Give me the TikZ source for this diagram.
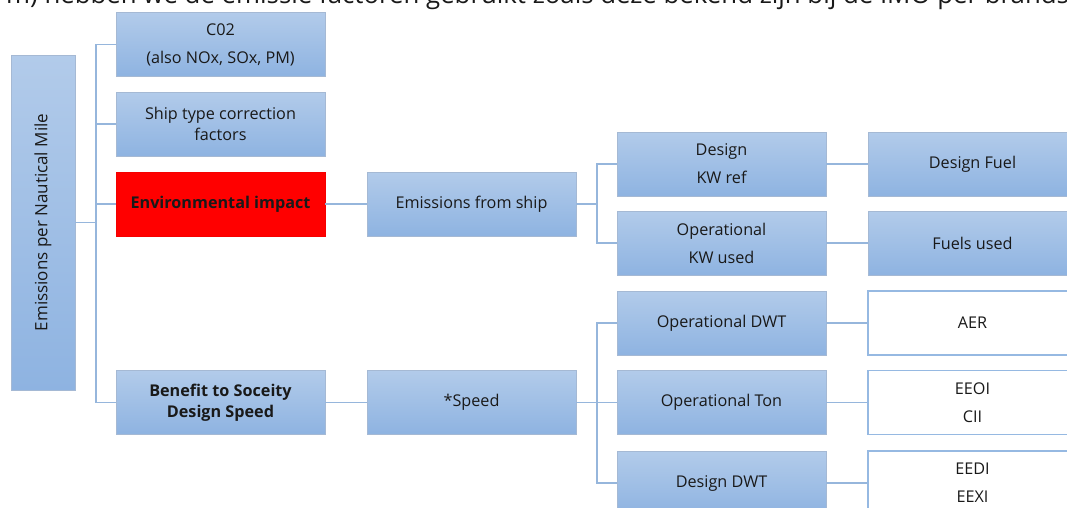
\documentclass[tikz,border=0pt]{standalone}
\usepackage{fontspec}
\setmainfont{Open Sans}
\definecolor{btop}{RGB}{178,203,234}
\definecolor{bbot}{RGB}{142,179,225}
\definecolor{bedge}{RGB}{165,185,212}
\definecolor{conncol}{RGB}{150,182,220}
\definecolor{wedge}{RGB}{150,185,226}
\definecolor{txt}{RGB}{25,25,25}
\tikzset{
  bluebox/.style={rectangle, top color=btop, bottom color=bbot, draw=bedge, line width=0.6pt,
    minimum width=209pt, minimum height=64pt, inner sep=0pt, align=center, text=txt,
    font=\fontsize{16.2}{21}\selectfont},
  redbox/.style={bluebox, top color=red, bottom color=red, fill=red, draw=red!80!black!20!red,
    font=\fontsize{16.2}{21}\selectfont\bfseries},
  whitebox/.style={bluebox, top color=white, bottom color=white, draw=wedge, line width=1.2pt},
  conn/.style={draw=conncol, line width=1.4pt},
}
\begin{document}
\begin{tikzpicture}[x=1pt,y=-1pt]
\useasboundingbox (0,0) rectangle (1067,507);
\fill[white] (0,0) rectangle (1067,507);
% partially visible heading text
\node[anchor=base west, inner sep=0pt, text=txt, font=\fontsize{25.8}{29}\selectfont] (head) at (6,3)
  {m) hebben we de emissie factoren gebruikt zoals deze bekend zijn bij de IMO per brandstof};
% root
\node[bluebox, minimum width=64pt, minimum height=335pt, font=\fontsize{17}{21}\selectfont] (root) at (43,222.5)
  {\rotatebox{90}{Emissions per Nautical Mile}};
% level 1
\node[bluebox] (c02) at (220.5,44.5) {C02\\[7pt](also NOx, SOx, PM)};
\node[bluebox] (ship) at (220.5,124) {Ship type correction\\factors};
\node[redbox] (env) at (220.5,204) {Environmental impact};
\node[bluebox, font=\fontsize{16.2}{21}\selectfont\bfseries] (ben) at (220.5,402.5) {Benefit to Soceity\\Design Speed};
% level 2
\node[bluebox] (ems) at (471.5,204) {Emissions from ship};
\node[bluebox] (spd) at (471.5,402.5) {*Speed};
% level 3
\node[bluebox] (dkw) at (721.5,164) {Design\\[7pt]KW ref};
\node[bluebox] (okw) at (721.5,243) {Operational\\[7pt]KW used};
\node[bluebox] (odwt) at (721.5,323) {Operational DWT};
\node[bluebox] (oton) at (721.5,402.5) {Operational Ton};
\node[bluebox] (ddwt) at (721.5,483) {Design DWT};
% level 4
\node[bluebox] (dfuel) at (972.5,164) {Design Fuel};
\node[bluebox] (fused) at (972.5,243) {Fuels used};
\node[whitebox] (aer) at (972.5,323) {AER};
\node[whitebox] (eeoi) at (972.5,402.5) {EEOI\\[7pt]CII};
\node[whitebox] (eedi) at (972.5,483) {EEDI\\[7pt]EEXI};
% trunks
\coordinate (t1) at (96,0);
\coordinate (t2) at (597,0);
\draw[conn] (root.east) -- (root.east -| t1);
\draw[conn] (c02.west) -- (c02.west -| t1) -- (ben.west -| t1) -- (ben.west);
\draw[conn] (ship.west) -- (ship.west -| t1);
\draw[conn] (env.west) -- (env.west -| t1);
\draw[conn] (env.east) -- (ems.west);
\draw[conn] (ben.east) -- (spd.west);
\draw[conn] (ems.east) -- (ems.east -| t2);
\draw[conn] (dkw.west) -- (dkw.west -| t2) -- (okw.west -| t2) -- (okw.west);
\draw[conn] (spd.east) -- (oton.west);
\draw[conn] (odwt.west) -- (odwt.west -| t2) -- (ddwt.west -| t2) -- (ddwt.west);
\draw[conn] (dkw.east) -- (dfuel.west);
\draw[conn] (okw.east) -- (fused.west);
\draw[conn] (odwt.east) -- (aer.west);
\draw[conn] (oton.east) -- (eeoi.west);
\draw[conn] (ddwt.east) -- (eedi.west);
\end{tikzpicture}
\end{document}
